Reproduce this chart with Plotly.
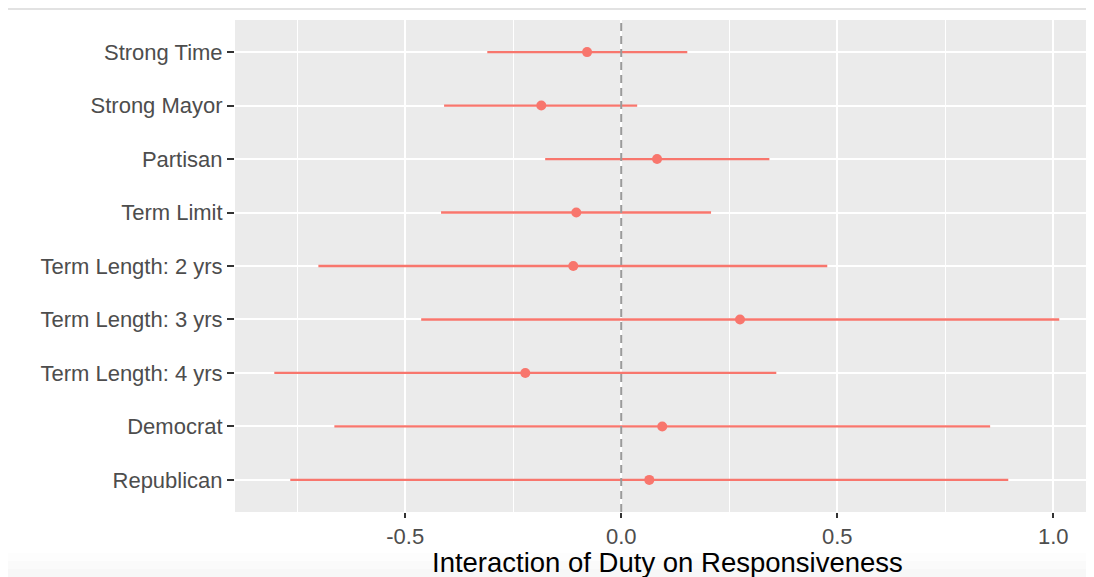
import plotly.graph_objects as go

categories = ["Strong Time", "Strong Mayor", "Partisan", "Term Limit",
              "Term Length: 2 yrs", "Term Length: 3 yrs", "Term Length: 4 yrs",
              "Democrat", "Republican"]
estimate = [-0.079, -0.185, 0.083, -0.104, -0.111, 0.275, -0.222, 0.095, 0.065]
lower = [-0.310, -0.410, -0.176, -0.417, -0.701, -0.463, -0.803, -0.664, -0.766]
upper = [0.153, 0.037, 0.343, 0.208, 0.477, 1.014, 0.359, 0.854, 0.896]
x_ticks = [-0.5, 0.0, 0.5, 1.0]
x_tick_labels = ["-0.5", "0.0", "0.5", "1.0"]
x_title = "Interaction of Duty on Responsiveness"

red = "#F8766D"
W, H = 1078, 577          # figure offset by the 8px body margin of the page
L, R, T, B = 227, 0, 12, 73
PW, PH = W - L - R, H - T - B

fig = go.Figure()
fig.add_trace(go.Scatter(
    x=estimate, y=categories, mode="markers",
    marker=dict(color=red, size=10),
    error_x=dict(type="data", symmetric=False,
                 array=[u - e for u, e in zip(upper, estimate)],
                 arrayminus=[e - l for e, l in zip(estimate, lower)],
                 color=red, thickness=2.3, width=0),
    showlegend=False, hoverinfo="skip"))

fig.add_shape(type="line", xref="x", yref="paper", x0=0, x1=0, y0=0, y1=1,
              line=dict(color="#9a9a9a", width=2, dash="8px,5px"))

# top separator line and bottom fade
fig.add_shape(type="line", xref="paper", yref="paper", x0=-L / PW, x1=1.0,
              y0=1 + (T - 1) / PH, y1=1 + (T - 1) / PH,
              line=dict(color="#d9d9d9", width=1.5))
for i, c in enumerate(["#fdfdfd", "#fafafa", "#f7f7f7"]):
    fig.add_shape(type="rect", xref="paper", yref="paper",
                  x0=-L / PW, x1=1.0,
                  y0=-(41 + i * 8) / PH, y1=-(41 + (i + 1) * 8) / PH,
                  fillcolor=c, line=dict(width=0), layer="below")

fig.add_annotation(text=x_title, xref="paper", yref="paper",
                   x=(659 - L) / PW, y=-50 / PH, xanchor="center", yanchor="middle",
                   showarrow=False, font=dict(size=27.5, color="black"))

fig.update_layout(
    width=W, height=H,
    margin=dict(l=L, r=R, t=T, b=B, pad=0),
    paper_bgcolor="white", plot_bgcolor="#EBEBEB",
    font=dict(family="Liberation Sans, Arial, sans-serif"),
    xaxis=dict(range=[-0.894, -0.894 + PW / 432.0], tickvals=x_ticks,
               ticktext=x_tick_labels,
               showgrid=True, gridcolor="white", gridwidth=1.5, zeroline=False,
               ticks="outside", ticklen=5, tickwidth=1.5, tickcolor="#333333",
               tickfont=dict(size=22, color="#4D4D4D"),
               minor=dict(dtick=0.25, tick0=0.25, showgrid=True,
                          gridcolor="white", gridwidth=0.8)),
    yaxis=dict(type="category", categoryorder="array",
               categoryarray=list(reversed(categories)),
               range=[-0.6, 8.6], showgrid=True, gridcolor="white", gridwidth=1.5,
               zeroline=False, ticks="outside", ticklen=7, tickwidth=1.5,
               tickcolor="#333333", tickfont=dict(size=22, color="#4D4D4D")),
)
fig.write_html("out.html")
